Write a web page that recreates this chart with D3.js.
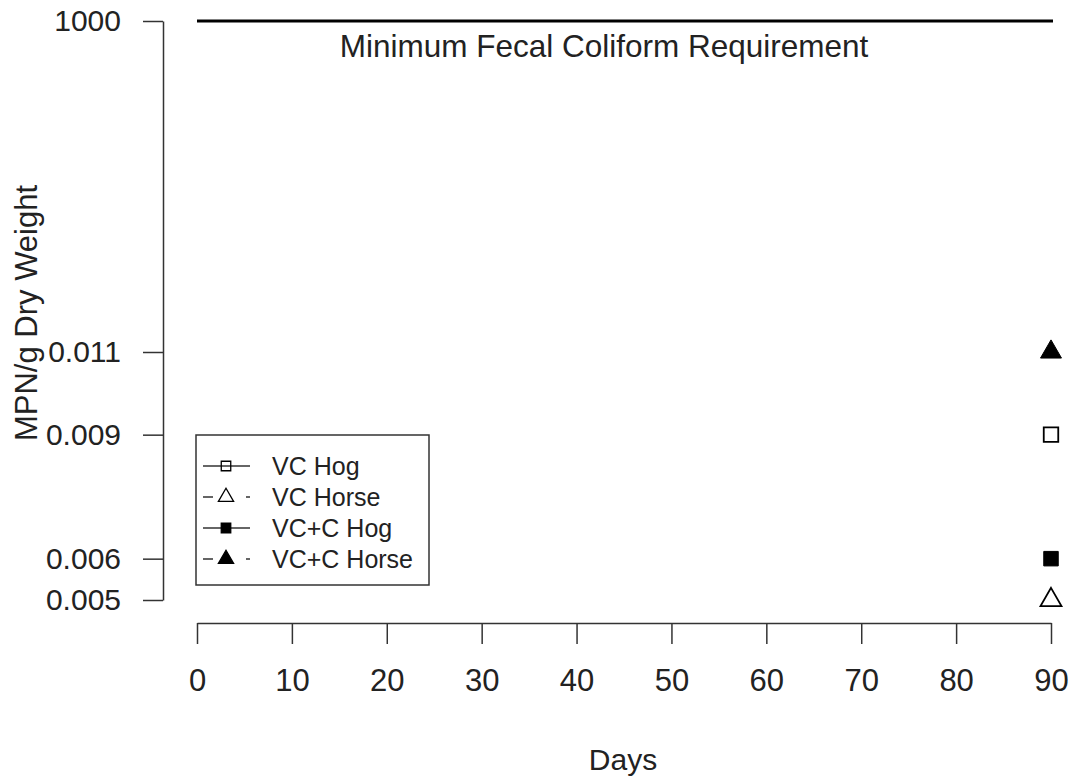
<!DOCTYPE html>
<html>
<head>
<meta charset="utf-8">
<script src="https://cdn.jsdelivr.net/npm/d3@7"></script>
<style>
body { margin: 0; background: #fff; }
text { font-family: "Liberation Sans", Arial, sans-serif; fill: #222; }
</style>
</head>
<body>
<svg id="chart" width="1074" height="782"></svg>
<script>
// data
var series = ["VC Hog", "VC Horse", "VC+C Hog", "VC+C Horse"];
var days = [90, 90, 90, 90];
var mpn = [0.009, 0.005, 0.006, 0.011];
var xTicks = [0, 10, 20, 30, 40, 50, 60, 70, 80, 90];
var yTicks = [0.005, 0.006, 0.009, 0.011, 1000];
var requirement = 1000;

var shapes = {
  "VC Hog": {sym: d3.symbolSquare, fill: "none"},
  "VC Horse": {sym: d3.symbolTriangle, fill: "none"},
  "VC+C Hog": {sym: d3.symbolSquare, fill: "#000"},
  "VC+C Horse": {sym: d3.symbolTriangle, fill: "#000"}
};

var svg = d3.select("#chart");

var x = d3.scaleLinear().domain([0, 90]).range([197, 1051]);
// broken axis: linear at the bottom, 1000 placed at the top
var y = d3.scaleLinear().domain([0.005, 0.011, 1000]).range([600, 352, 21]);

// x axis (detached, below the plot)
var xAxis = svg.append("g")
  .attr("transform", "translate(0,623)")
  .call(d3.axisBottom(x).tickValues(xTicks).tickSize(21).tickPadding(25).tickSizeOuter(0));
xAxis.select(".domain").attr("stroke", "#333").attr("stroke-width", 1.5);
xAxis.selectAll(".tick line").attr("stroke", "#333").attr("stroke-width", 1.5);
xAxis.selectAll("text").style("font-size", "31px").attr("fill", "#222");

// y axis
var yAxis = svg.append("g")
  .attr("transform", "translate(163,0)")
  .call(d3.axisLeft(y).tickValues(yTicks).tickSize(20).tickPadding(22).tickSizeOuter(0)
    .tickFormat(function(d) { return d >= 1 ? String(d) : d3.format(".3f")(d); }));
yAxis.select(".domain").attr("stroke", "#333").attr("stroke-width", 1.5);
yAxis.selectAll(".tick line").attr("stroke", "#333").attr("stroke-width", 1.5);
yAxis.selectAll("text").style("font-size", "30px").attr("fill", "#222");

// requirement line
svg.append("line")
  .attr("x1", x(0)).attr("x2", x(90) + 2)
  .attr("y1", y(requirement)).attr("y2", y(requirement))
  .attr("stroke", "#000").attr("stroke-width", 3);
svg.append("text")
  .attr("x", 604).attr("y", 57)
  .attr("text-anchor", "middle")
  .style("font-size", "31.5px")
  .text("Minimum Fecal Coliform Requirement");

// axis titles
svg.append("text")
  .attr("x", 623).attr("y", 770)
  .attr("text-anchor", "middle")
  .style("font-size", "30px")
  .text("Days");
svg.append("text")
  .attr("transform", "translate(37,313) rotate(-90)")
  .attr("text-anchor", "middle")
  .style("font-size", "31px")
  .text("MPN/g Dry Weight");

// points
svg.selectAll(".pt")
  .data(series)
  .enter().append("path")
  .attr("class", "pt")
  .attr("transform", function(d, i) { return "translate(" + x(days[i]) + "," + y(mpn[i]) + ")"; })
  .attr("d", function(d) { return d3.symbol().type(shapes[d].sym).size(shapes[d].sym == d3.symbolSquare ? 210 : 190)(); })
  .attr("fill", function(d) { return shapes[d].fill; })
  .attr("stroke", "#000")
  .attr("stroke-width", function(d) { return shapes[d].fill == "none" ? 1.8 : 1; });

// legend
var lg = svg.append("g").attr("transform", "translate(196,435)");
lg.append("rect")
  .attr("width", 233).attr("height", 150)
  .attr("fill", "#fff").attr("stroke", "#333").attr("stroke-width", 1.5);
var item = lg.selectAll(".legend")
  .data(series)
  .enter().append("g")
  .attr("class", "legend")
  .attr("transform", function(d, i) { return "translate(0," + (31 + i * 31) + ")"; });
item.append("line")
  .attr("x1", 7).attr("x2", 54)
  .attr("stroke", "#333").attr("stroke-width", 1.5)
  .attr("stroke-dasharray", function(d, i) { return i % 2 ? "10,33" : null; });
item.append("path")
  .attr("transform", "translate(30,0)")
  .attr("d", function(d) { return d3.symbol().type(shapes[d].sym).size(shapes[d].sym == d3.symbolSquare ? 90 : 100)(); })
  .attr("fill", function(d) { return shapes[d].fill; })
  .attr("stroke", "#000").attr("stroke-width", 1.3);
item.append("text")
  .attr("x", 76).attr("dy", "0.36em")
  .style("font-size", "25px")
  .text(function(d) { return d; });
</script>
</body>
</html>
